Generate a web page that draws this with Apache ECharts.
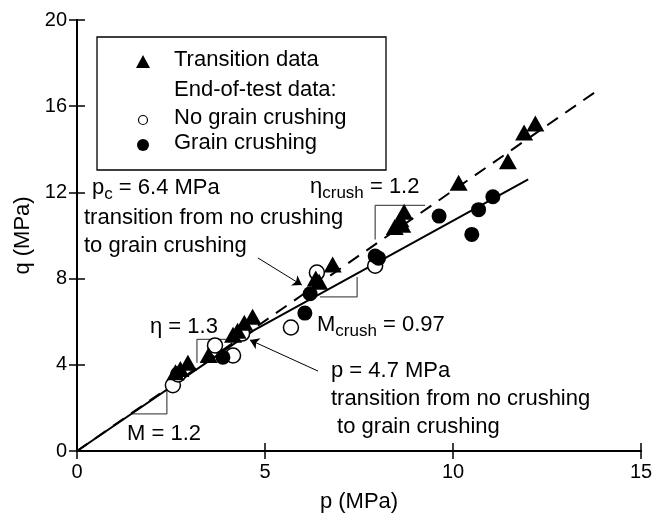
<!DOCTYPE html>
<html>
<head>
<meta charset="utf-8">
<script src="https://cdn.jsdelivr.net/npm/echarts@6/dist/echarts.min.js"></script>
<style>
html,body{margin:0;padding:0;background:#fff;}
#chart{width:665px;height:519px;}
</style>
</head>
<body>
<div id="chart"></div>
<script>
// ---- data (p, q in MPa) ----
const pTransition = [12.19, 11.89, 11.46, 10.15, 8.70, 8.60, 8.45, 8.65, 6.80, 6.44, 6.35, 4.67, 4.45, 4.27, 4.15, 3.50, 2.95, 2.75, 2.62];
const qTransition = [15.20, 14.78, 13.45, 12.45, 11.10, 10.75, 10.40, 10.50, 8.65, 7.85, 8.00, 6.23, 5.95, 5.58, 5.40, 4.45, 4.10, 3.80, 3.65];
const pNoCrush = [7.93, 6.38, 5.69, 4.15, 3.67, 4.39, 2.55, 2.69];
const qNoCrush = [8.60, 8.28, 5.73, 4.43, 4.90, 5.45, 3.05, 3.55];
const pCrush = [11.06, 10.68, 10.50, 9.63, 8.02, 7.93, 6.20, 6.06, 3.88];
const qCrush = [11.80, 11.20, 10.05, 10.90, 8.95, 9.05, 7.30, 6.40, 4.35];
// fitted lines
const pSolid = [0, 4.7, 12.0];
const qSolid = [0, 5.6, 12.6];
const pDashed = [0, 13.9];
const qDashed = [0, 16.8];
// slope triangles
const triM = [[1.46, 1.72], [2.39, 1.72], [2.39, 2.85]];
const triEta = [[4.15, 5.18], [3.19, 5.18], [3.19, 4.10]];
const triEtaCrush = [[9.26, 11.40], [7.93, 11.40], [7.93, 9.81]];
const triMCrush = [[6.46, 7.15], [7.45, 7.15], [7.45, 8.07]];
// arrows
const arrowPc = [[4.81, 8.96], [5.98, 7.70]];
const arrowP47 = [[6.41, 3.71], [4.60, 5.15]];
// axis ticks
const xTicks = {min: 0, max: 15, interval: 5};
const yTicks = {min: 0, max: 20, interval: 4};

const FONT = 'Liberation Sans';
const FS = 22;
const TFS = 20;

function zip(a, b) { return a.map((v, i) => [v, b[i]]); }

const axisLineStyle = {color: '#000', width: 2};
const tickStyle = {inside: true, length: 8, lineStyle: {color: '#000', width: 1.5}};

const chart = echarts.init(document.getElementById('chart'), null, {renderer: 'canvas'});

const sub = {fontSize: 17, fontFamily: FONT, color: '#000', padding: [12, 0, 0, 0]};
const main = {fontSize: FS, fontFamily: FONT, color: '#000'};

function txt(x, y, text, rich) {
  return {
    type: 'text', left: x, top: y,
    style: rich ? {text: text, rich: {m: main, s: sub}, fill: '#000', font: FS + 'px ' + FONT}
                : {text: text, fill: '#000', font: FS + 'px ' + FONT}
  };
}

const option = {
  backgroundColor: '#fff',
  animation: false,
  grid: {left: 77, right: 24, top: 20, bottom: 68, containLabel: false, outerBoundsMode: 'none'},
  xAxis: [
    {type: 'value', position: 'bottom', min: xTicks.min, max: xTicks.max, interval: xTicks.interval,
     axisLine: {show: true, lineStyle: axisLineStyle}, axisTick: tickStyle,
     axisLabel: {color: '#000', fontSize: TFS, fontFamily: FONT, margin: 11},
     splitLine: {show: false},
     name: 'p (MPa)', nameLocation: 'middle', nameGap: 40,
     nameTextStyle: {color: '#000', fontSize: FS, fontFamily: FONT}},
    {type: 'value', position: 'top', min: xTicks.min, max: xTicks.max, interval: xTicks.interval,
     axisLine: {show: true, lineStyle: axisLineStyle}, axisTick: tickStyle,
     axisLabel: {show: false}, splitLine: {show: false}}
  ],
  yAxis: [
    {type: 'value', position: 'left', min: yTicks.min, max: yTicks.max, interval: yTicks.interval,
     axisLine: {show: true, lineStyle: axisLineStyle}, axisTick: tickStyle,
     axisLabel: {color: '#000', fontSize: TFS, fontFamily: FONT, margin: 10},
     splitLine: {show: false},
     name: 'q (MPa)', nameLocation: 'middle', nameGap: 41, nameRotate: 90,
     nameTextStyle: {color: '#000', fontSize: FS, fontFamily: FONT}},
    {type: 'value', position: 'right', min: yTicks.min, max: yTicks.max, interval: yTicks.interval,
     axisLine: {show: true, lineStyle: axisLineStyle}, axisTick: tickStyle,
     axisLabel: {show: false}, splitLine: {show: false}}
  ],
  series: [
    {type: 'line', data: zip(pDashed, qDashed), symbol: 'none', silent: true,
     lineStyle: {color: '#000', width: 2, type: [13, 9]}, z: 2},
    {type: 'line', data: zip(pSolid, qSolid), symbol: 'none', silent: true,
     lineStyle: {color: '#000', width: 2}, z: 2},
    {type: 'line', data: triM, symbol: 'none', lineStyle: {color: '#555', width: 1.3}, z: 1},
    {type: 'line', data: triEta, symbol: 'none', lineStyle: {color: '#555', width: 1.3}, z: 1},
    {type: 'line', data: triEtaCrush, symbol: 'none', lineStyle: {color: '#555', width: 1.3}, z: 1},
    {type: 'line', data: triMCrush, symbol: 'none', lineStyle: {color: '#555', width: 1.3}, z: 1},
    {type: 'lines', coordinateSystem: 'cartesian2d', symbol: ['none', 'arrow'], symbolSize: 9,
     lineStyle: {color: '#000', width: 1, opacity: 1},
     data: [{coords: arrowPc}, {coords: arrowP47}], z: 3},
    {name: 'No grain crushing', type: 'scatter', data: zip(pNoCrush, qNoCrush), symbol: 'circle', symbolSize: 15,
     itemStyle: {color: '#fff', borderColor: '#000', borderWidth: 1.5, opacity: 1}, z: 4},
    {name: 'Transition data', type: 'scatter', data: zip(pTransition, qTransition), symbol: 'triangle', symbolSize: [18, 16],
     itemStyle: {color: '#000', opacity: 1}, z: 5},
    {name: 'Grain crushing', type: 'scatter', data: zip(pCrush, qCrush), symbol: 'circle', symbolSize: 15,
     itemStyle: {color: '#000', opacity: 1}, z: 6}
  ],
  graphic: [
    {type: 'rect', shape: {x: 97, y: 37, width: 289, height: 133},
     style: {fill: '#fff', stroke: '#000', lineWidth: 1.3}, z: 10},
    {type: 'polygon', shape: {points: [[143, 55], [136, 68], [150, 68]]}, style: {fill: '#000'}, z: 11},
    {type: 'circle', shape: {cx: 143, cy: 120, r: 4.5}, style: {fill: '#fff', stroke: '#000', lineWidth: 1.2}, z: 11},
    {type: 'circle', shape: {cx: 143, cy: 145, r: 6}, style: {fill: '#000'}, z: 11},
    {type: 'text', left: 174, top: 49, style: {text: 'Transition data', fill: '#000', font: FS + 'px ' + FONT}, z: 11},
    {type: 'text', left: 174, top: 79, style: {text: 'End-of-test data:', fill: '#000', font: FS + 'px ' + FONT}, z: 11},
    {type: 'text', left: 174, top: 107, style: {text: 'No grain crushing', fill: '#000', font: FS + 'px ' + FONT}, z: 11},
    {type: 'text', left: 174, top: 132, style: {text: 'Grain crushing', fill: '#000', font: FS + 'px ' + FONT}, z: 11},
    txt(92, 177, '{m|p}{s|c}{m| = 6.4 MPa}', true),
    txt(84, 207, 'transition from no crushing'),
    txt(84, 235, 'to grain crushing'),
    txt(310, 176, '{m|η}{s|crush}{m| = 1.2}', true),
    txt(150, 316, 'η = 1.3'),
    txt(317, 314, '{m|M}{s|crush}{m| = 0.97}', true),
    txt(331, 360, 'p = 4.7 MPa'),
    txt(331, 388, 'transition from no crushing'),
    txt(331, 416, ' to grain crushing'),
    txt(127, 423, 'M = 1.2')
  ]
};
chart.setOption(option);
</script>
</body>
</html>
